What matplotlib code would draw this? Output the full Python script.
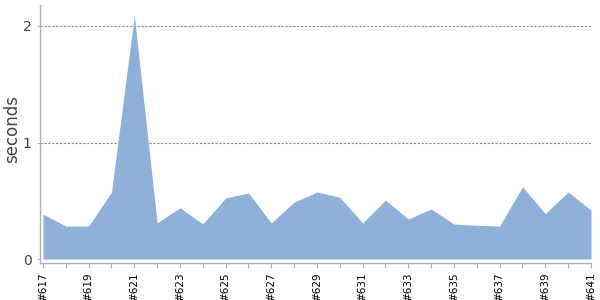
"""Build duration area chart (seconds per build)."""

import matplotlib

matplotlib.use("Agg")
import matplotlib.pyplot as plt
import numpy as np

builds = [f"#{n}" for n in range(617, 642)]
seconds = [
    0.386, 0.283, 0.283, 0.575, 2.09, 0.31, 0.44, 0.30, 0.524, 0.567,
    0.31, 0.49, 0.575, 0.53, 0.31, 0.506, 0.343, 0.43, 0.30, 0.29,
    0.283, 0.62, 0.39, 0.575, 0.42,
]
y_ticks = [0, 1, 2]

FILL = "#8fb1d9"
AXIS = "#b0b0b0"
TEXT = "#444444"

fig = plt.figure(figsize=(6, 3), dpi=100)
ax = fig.add_axes([40 / 600, 37 / 300, 551 / 600, 258 / 300])

x = np.arange(len(builds))
ax.fill_between(x, 0, seconds, color=FILL, linewidth=0)

ax.set_xlim(-0.13, len(builds) - 1)
ax.set_ylim(-0.034, 2.18)

for v in y_ticks[1:]:
    ax.axhline(v, color="#888888", linestyle=(0, (2, 1.5)), linewidth=0.8, zorder=0)

ax.set_xticks(x)
ax.set_xticklabels([b if i % 2 == 0 else "" for i, b in enumerate(builds)],
                   rotation=90, fontsize=7.5, color="black")
ax.set_yticks(y_ticks)
ax.set_yticklabels([str(v) for v in y_ticks], fontsize=10, color=TEXT)
ax.tick_params(axis="x", length=3.5, color=AXIS, pad=3)
ax.tick_params(axis="y", length=2, color=AXIS, pad=4)

for side in ("top", "right"):
    ax.spines[side].set_visible(False)
for side in ("left", "bottom"):
    ax.spines[side].set_color(AXIS)
    ax.spines[side].set_linewidth(1)

ax.set_ylabel("seconds", fontsize=12, color=TEXT)
ax.yaxis.set_label_coords(-0.035, 0.52)

fig.savefig("out.png", dpi=100)
